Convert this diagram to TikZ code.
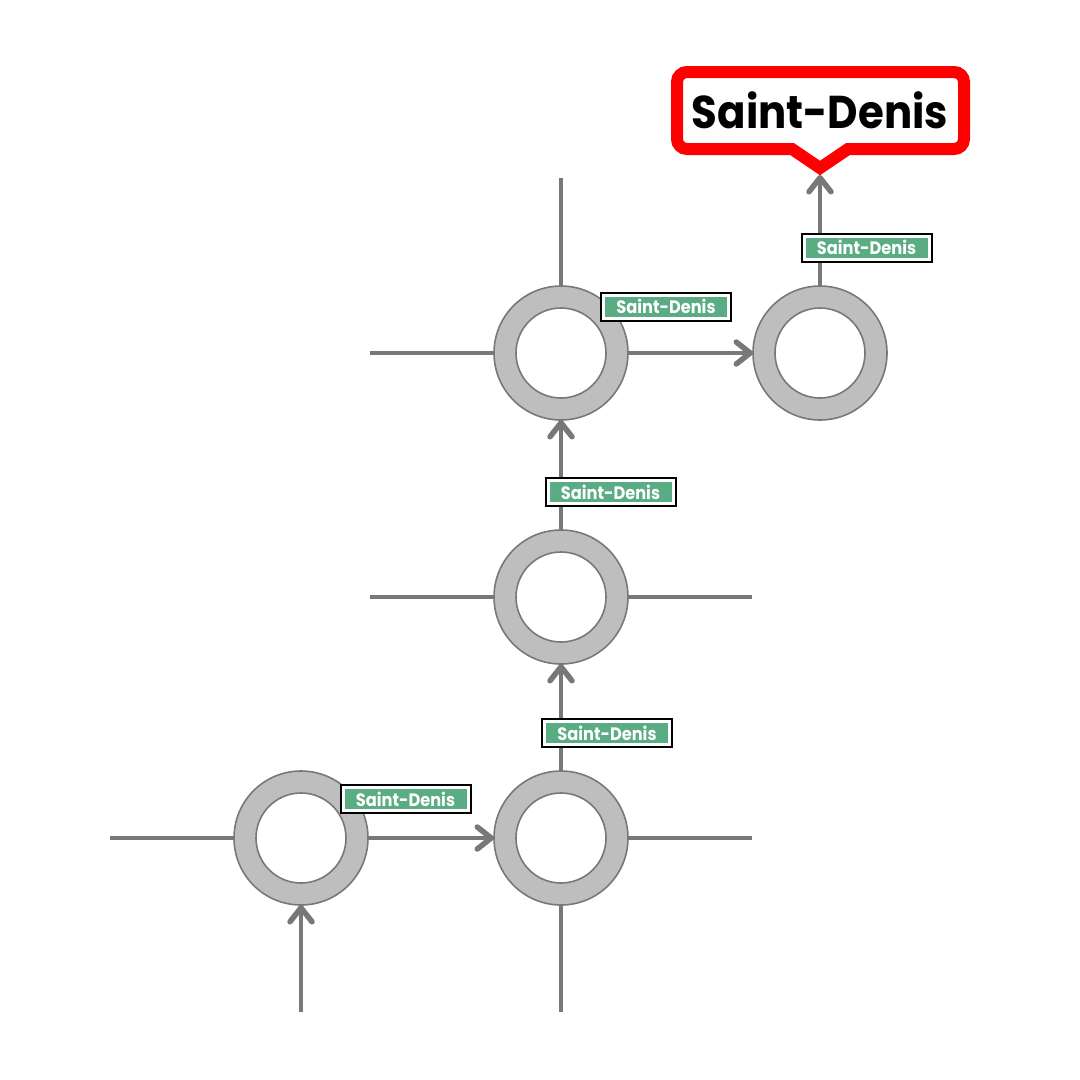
\documentclass[tikz,border=0pt]{standalone}
\usepackage{fontspec}
\setmainfont{Poppins}
\newfontfamily\signfont{Poppins}[FakeStretch=0.9]
\newfontfamily\destfont{Poppins}[FakeStretch=0.91]
\usetikzlibrary{arrows.meta}
\definecolor{road}{RGB}{120,120,120}
\definecolor{ringfill}{RGB}{190,190,190}
\definecolor{signgreen}{RGB}{90,172,130}
\definecolor{calloutred}{RGB}{255,0,0}
\tikzset{
  ring/.style={circle, minimum size=134pt, inner sep=0pt, outer sep=0pt, fill=ringfill, draw=road, line width=1.6pt},
  hole/.style={circle, minimum size=90pt, inner sep=0pt, outer sep=0pt, fill=white, draw=road, line width=1.6pt},
  roadline/.style={draw=road, line width=4.6pt},
  roadarrow/.style={roadline, -{Straight Barb[length=14pt,width=22pt,line width=5.5pt,round]}},
  sign/.style={preaction={draw=black, line width=7pt}, fill=signgreen, draw=white, line width=3pt,
    minimum width=125pt, minimum height=23pt, inner sep=0pt, text=white,
    font=\signfont\bfseries\fontsize{18}{18}\selectfont},
  dest/.style={text=black, font=\destfont\bfseries\fontsize{46}{46}\selectfont, inner sep=0pt}
}
\begin{document}
\begin{tikzpicture}[x=1pt,y=-1pt]
\useasboundingbox (0,0) rectangle (1080,1080);
% roundabouts
\node[ring] (r1) at (561,353) {};
\node[ring] (r2) at (820,353) {};
\node[ring] (r3) at (561,597) {};
\node[ring] (r4) at (301,838) {};
\node[ring] (r5) at (561,838) {};
\foreach \r in {r1,r2,r3,r4,r5} \node[hole] at (\r) {};
% stubs
\coordinate (r1n) at (561,178);
\coordinate (r1w) at (370,353);
\coordinate (r3w) at (370,597);
\coordinate (r3e) at (752,597);
\coordinate (r4w) at (110,838);
\coordinate (r4s) at (301,1012);
\coordinate (r5e) at (752,838);
\coordinate (r5s) at (561,1012);
\coordinate (apex) at (820,175);
\draw[roadline] (r1.north) -- (r1n);
\draw[roadline] (r1.west) -- (r1w);
\draw[roadline] (r3.west) -- (r3w);
\draw[roadline] (r3.east) -- (r3e);
\draw[roadline] (r4.west) -- (r4w);
\draw[roadline] (r5.east) -- (r5e);
\draw[roadline] (r5.south) -- (r5s);
% arrows
\draw[roadarrow] (r4s) -- (r4.south);
\draw[roadarrow] (r4.east) -- (r5.west);
\draw[roadarrow] (r5.north) -- (r3.south);
\draw[roadarrow] (r3.north) -- (r1.south);
\draw[roadarrow] (r1.east) -- (r2.west);
\draw[roadarrow] (r2.north) -- (apex);
% callout
\draw[calloutred, fill=white, line width=12pt, line join=miter]
  (820,168) -- (848,149) -- (870,149) [rounded corners=10pt] -- (964,149) -- (964,72) -- (677,72) -- (677,149) -- (770,149) [sharp corners] -- (792,149) -- cycle;
\node[dest] (destlabel) at (820,110) {Saint-Denis};
% signs
\node[sign] (s1) at (666,306.5) {Saint-Denis};
\node[sign] (s2) at (610.5,492) {Saint-Denis};
\node[sign] (s3) at (607,733) {Saint-Denis};
\node[sign] (s4) at (405.5,799) {Saint-Denis};
\node[sign] (s5) at (866.5,247.5) {Saint-Denis};
\end{tikzpicture}
\end{document}
